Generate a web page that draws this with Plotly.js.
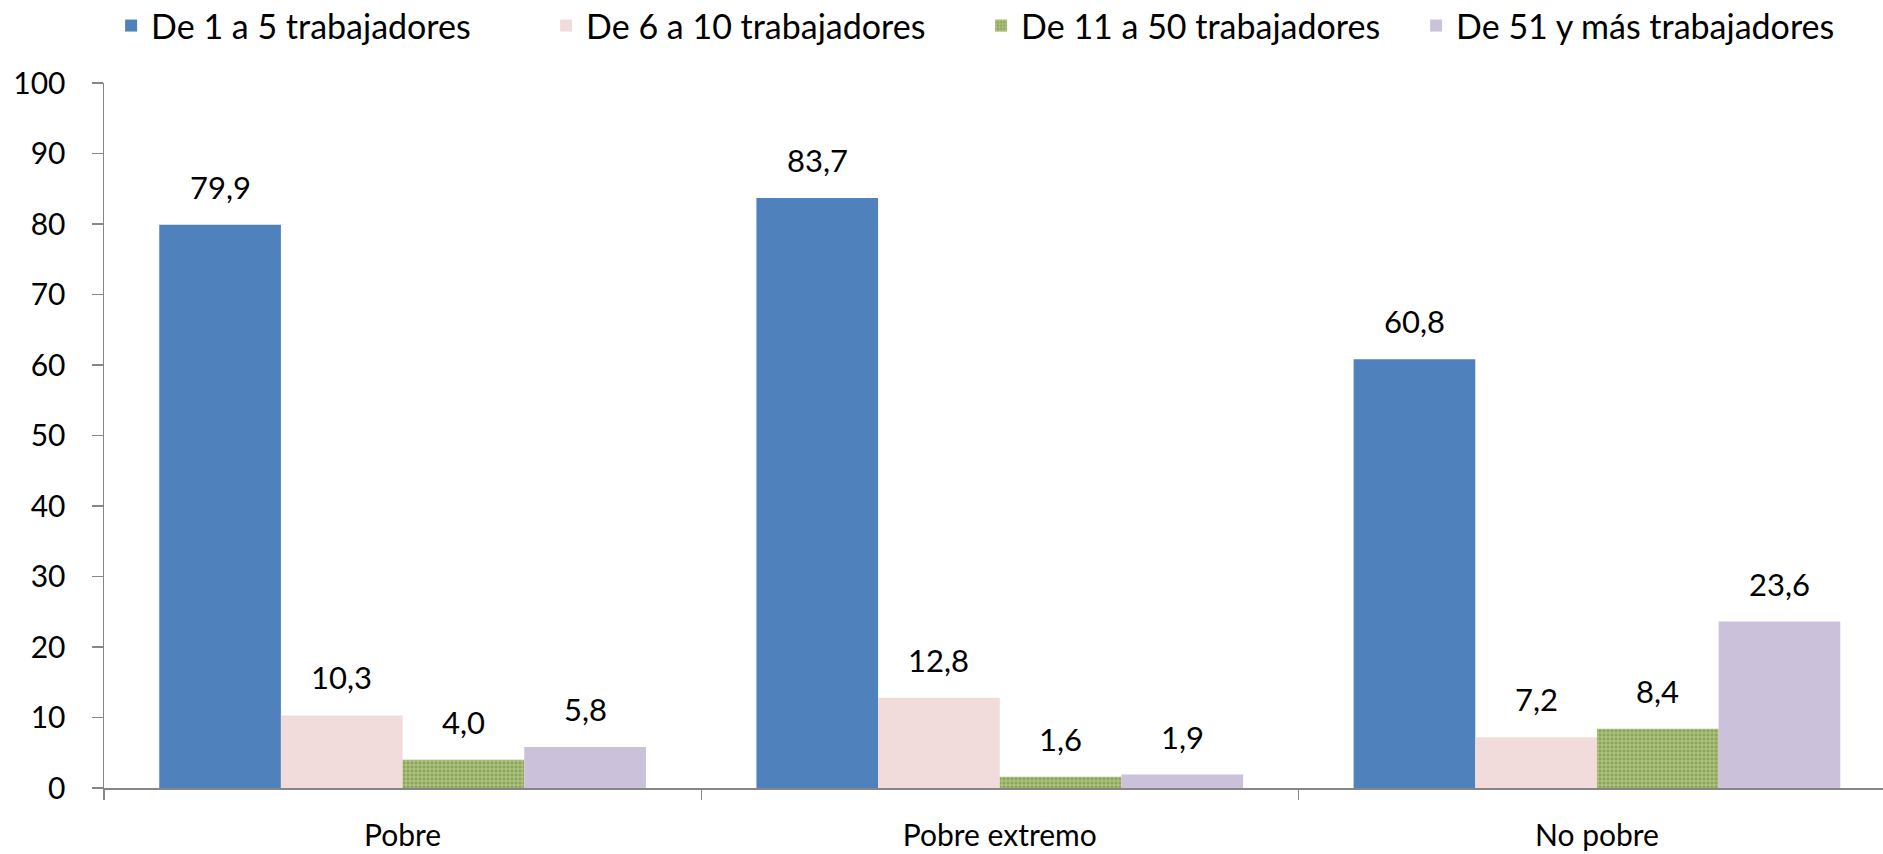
<!DOCTYPE html>
<html>
<head>
<meta charset="utf-8">
<script src="https://cdn.plot.ly/plotly-3.0.1.min.js"></script>
<style>
html,body{margin:0;padding:0;background:#fff;}
#chart{width:1883px;height:854px;}
</style>
</head>
<body>
<div id="chart"></div>
<script>
const categories = ["Pobre", "Pobre extremo", "No pobre"];
const seriesNames = ["De 1 a 5 trabajadores", "De 6 a 10 trabajadores", "De 11 a 50 trabajadores", "De 51 y más trabajadores"];
const s1 = [79.9, 83.7, 60.8];
const s2 = [10.3, 12.8, 7.2];
const s3 = [4.0, 1.6, 8.4];
const s4 = [5.8, 1.9, 23.6];
const yTicks = [0, 10, 20, 30, 40, 50, 60, 70, 80, 90, 100];

const FONT = "Lato, 'Open Sans', sans-serif";
const bargap = 0.185;
const series = [s1, s2, s3, s4];
const colors = ["#4F81BD", "#F2DCDB", "#9BBB59", "#CCC1DA"];

const traces = series.map((vals, k) => {
  const t = {
    type: "bar",
    name: seriesNames[k],
    x: categories,
    y: vals,
    marker: { color: colors[k], line: { width: 0 } },
    hoverinfo: "none"
  };
  if (k === 2) {
    t.marker = {
      color: "#8FAA5A",
      line: { width: 0 },
      pattern: { shape: "+", fgcolor: "#BFD19C", bgcolor: "#8BA655", size: 4, solidity: 0.35, fillmode: "replace" }
    };
  }
  return t;
});

const w = (1 - bargap) / series.length;
const fmt = v => v.toFixed(1).replace(".", ",");
const annotations = [];
series.forEach((vals, k) => {
  vals.forEach((v, i) => {
    annotations.push({
      x: i + (k - (series.length - 1) / 2) * w,
      y: v,
      xref: "x", yref: "y",
      text: fmt(v),
      showarrow: false,
      yanchor: "bottom",
      yshift: 17,
      font: { family: FONT, size: 31, color: "#000" }
    });
  });
});

const layout = {
  width: 1883, height: 854,
  margin: { l: 104, r: 0, t: 83, b: 66, pad: 0, autoexpand: false },
  paper_bgcolor: "#fff", plot_bgcolor: "#fff",
  barmode: "group", bargap: bargap, bargroupgap: 0,
  font: { family: FONT, size: 30, color: "#000" },
  showlegend: true,
  legend: {
    orientation: "h", x: 0.004, xanchor: "left",
    yref: "container", y: 0.9696, yanchor: "middle",
    font: { family: FONT, size: 34, color: "#000" },
    entrywidth: 390, entrywidthmode: "pixels",
    itemclick: false, itemdoubleclick: false, tracegroupgap: 0
  },
  xaxis: {
    type: "category",
    range: [-0.5, 2.479],
    showline: true, linecolor: "#868686", linewidth: 1.5,
    ticks: "outside", tickson: "boundaries", ticklen: 10, tickcolor: "#868686", tickwidth: 1.3,
    showgrid: false, zeroline: false,
    tickfont: { family: FONT, size: 30, color: "#000" },
    ticklabelstandoff: 20,
    fixedrange: true
  },
  yaxis: {
    range: [0, 100],
    tickvals: yTicks, ticktext: yTicks.map(String),
    showline: true, linecolor: "#868686", linewidth: 1.5,
    ticks: "outside", ticklen: 11, tickcolor: "#868686", tickwidth: 1.3,
    showgrid: false, zeroline: false,
    tickfont: { family: FONT, size: 30, color: "#000" },
    ticklabelstandoff: 20,
    fixedrange: true
  },
  annotations: annotations
};

Plotly.newPlot("chart", traces, layout, { displayModeBar: false, staticPlot: true });
</script>
</body>
</html>
